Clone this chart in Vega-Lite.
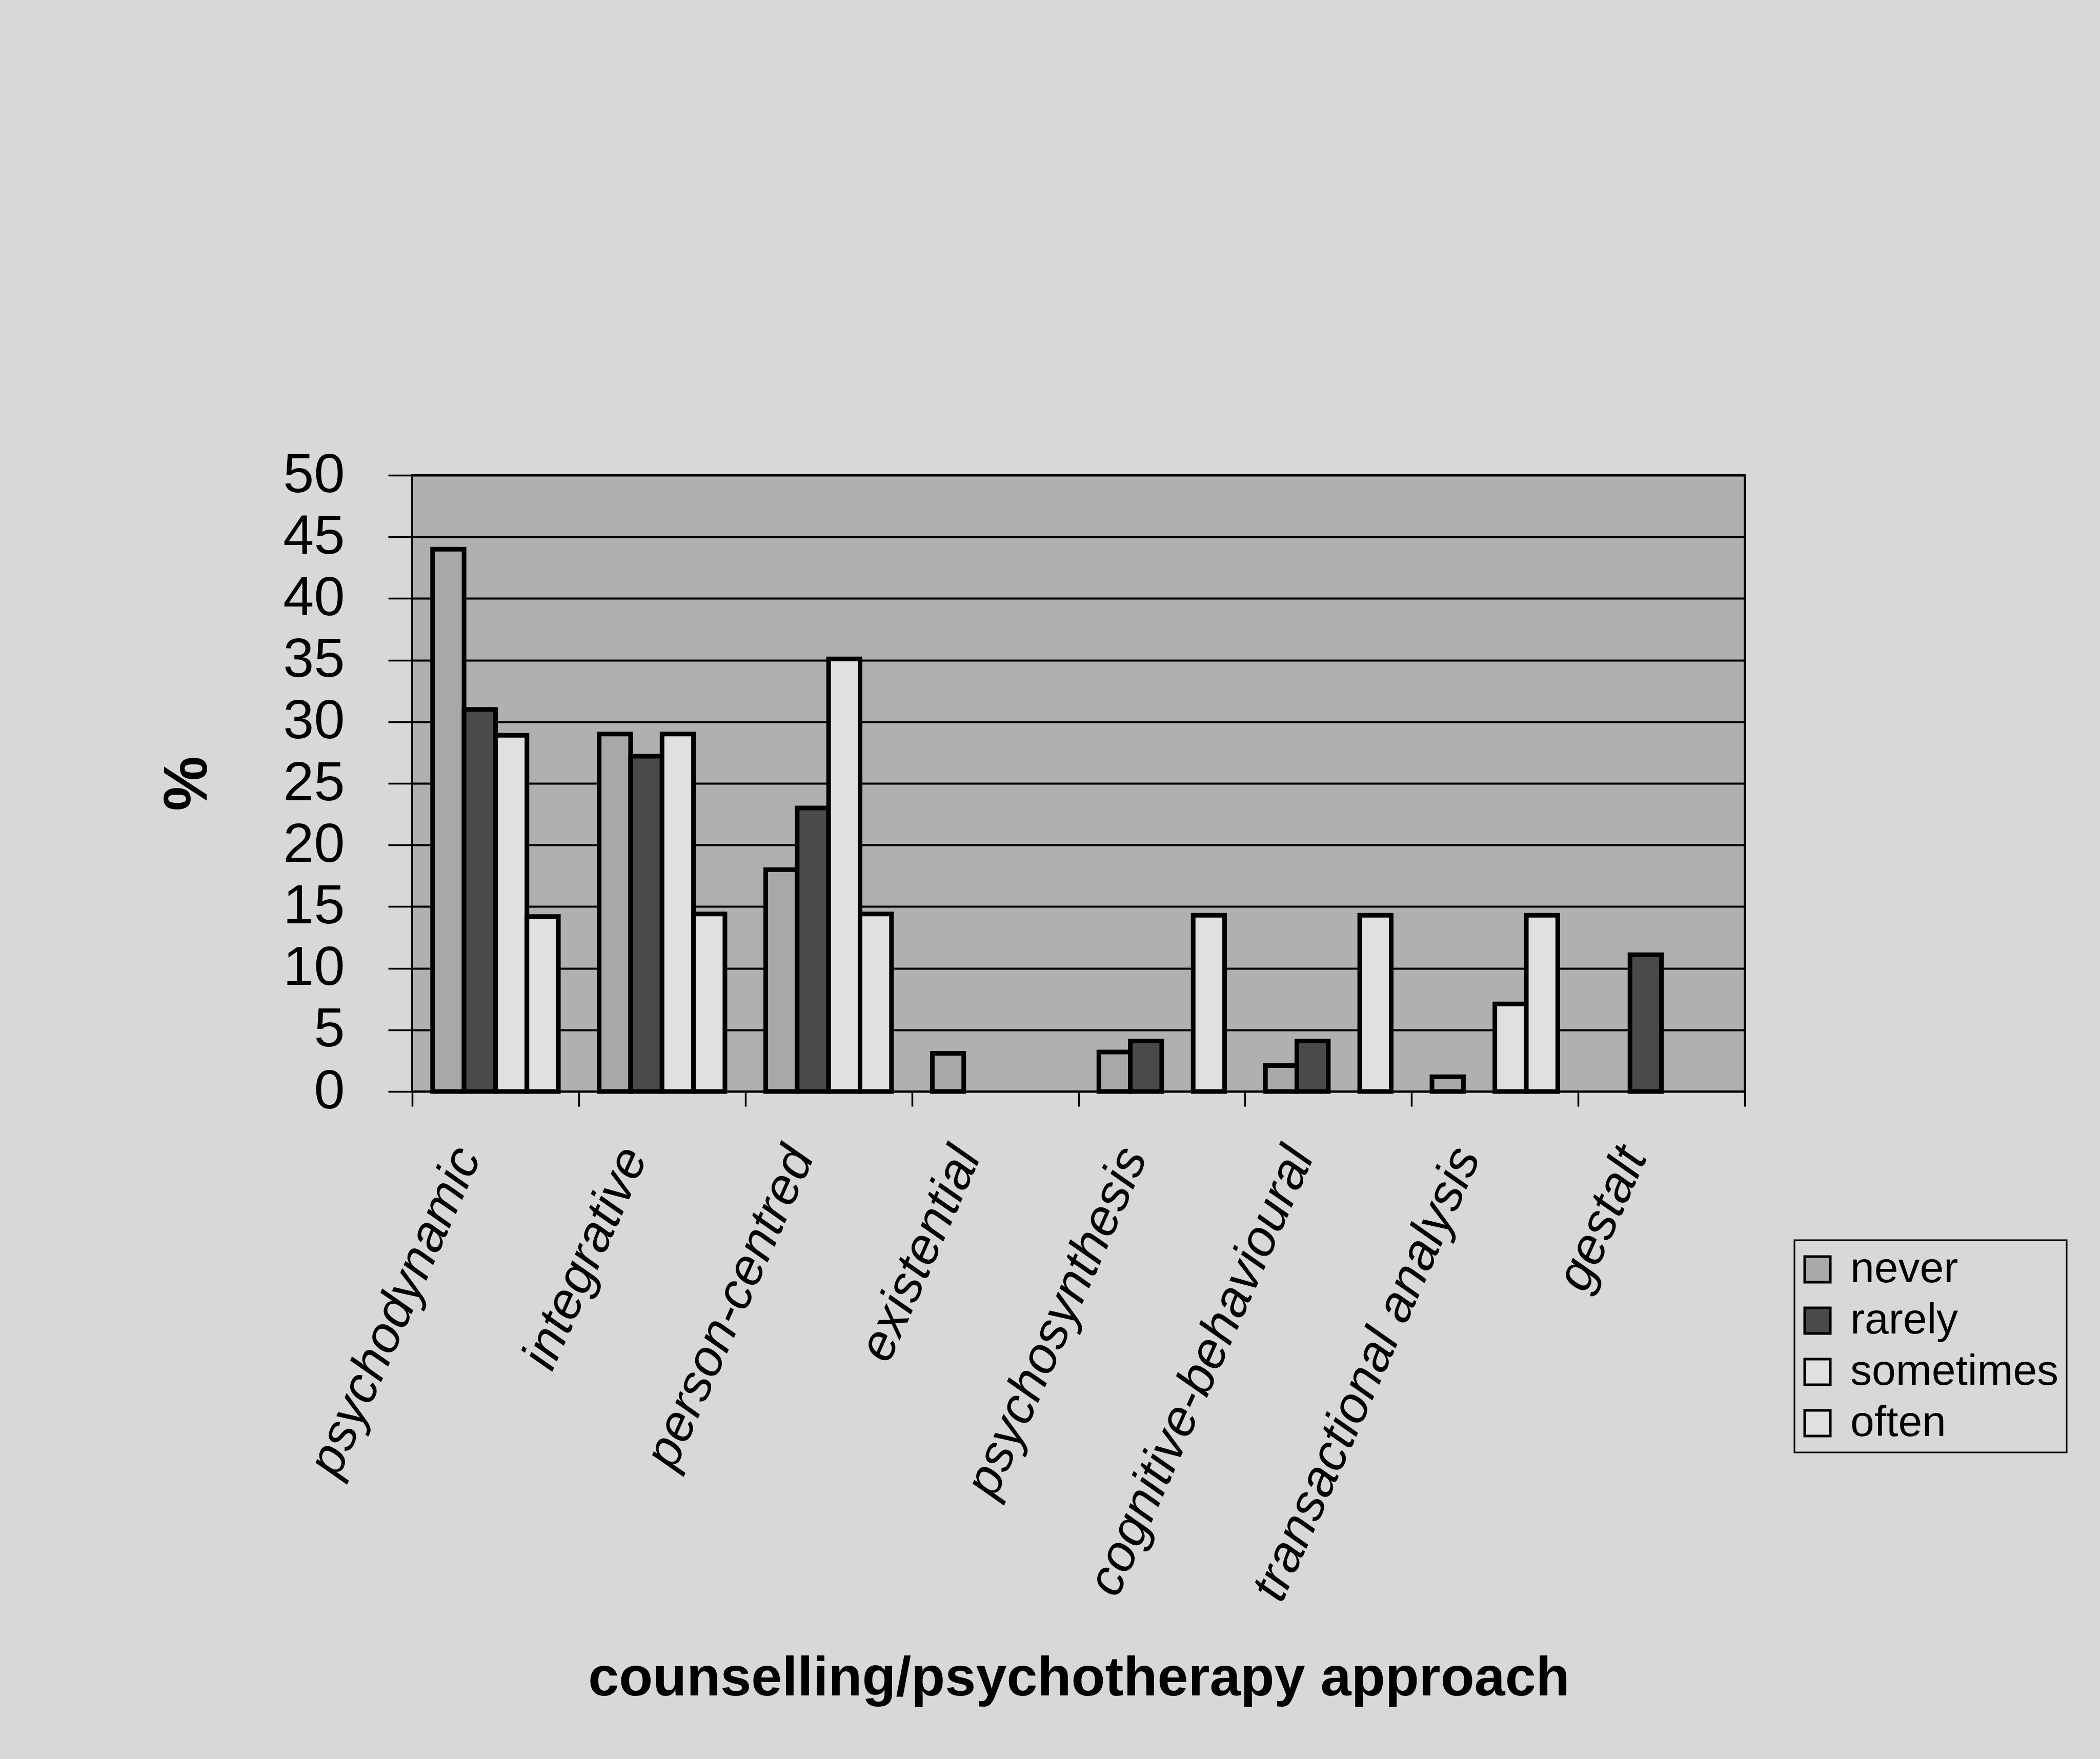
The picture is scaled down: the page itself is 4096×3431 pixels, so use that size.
{
  "$schema": "https://vega.github.io/schema/vega-lite/v6.json",
  "width": 2599,
  "height": 1202,
  "autosize": {"type": "none"},
  "padding": {"left": 804, "top": 927, "right": 693, "bottom": 1302},
  "background": "#d8d8d8",
  "data": {
    "values": [
      {"approach": "psychodynamic", "frequency": "never", "percent": 44},
      {"approach": "psychodynamic", "frequency": "rarely", "percent": 31},
      {"approach": "psychodynamic", "frequency": "sometimes", "percent": 28.9},
      {"approach": "psychodynamic", "frequency": "often", "percent": 14.2},
      {"approach": "integrative", "frequency": "never", "percent": 29},
      {"approach": "integrative", "frequency": "rarely", "percent": 27.2},
      {"approach": "integrative", "frequency": "sometimes", "percent": 29},
      {"approach": "integrative", "frequency": "often", "percent": 14.4},
      {"approach": "person-centred", "frequency": "never", "percent": 18},
      {"approach": "person-centred", "frequency": "rarely", "percent": 23},
      {"approach": "person-centred", "frequency": "sometimes", "percent": 35.1},
      {"approach": "person-centred", "frequency": "often", "percent": 14.4},
      {"approach": "existential", "frequency": "never", "percent": 3.1},
      {"approach": "psychosynthesis", "frequency": "never", "percent": 3.2},
      {"approach": "psychosynthesis", "frequency": "rarely", "percent": 4.1},
      {"approach": "psychosynthesis", "frequency": "often", "percent": 14.3},
      {"approach": "cognitive-behavioural", "frequency": "never", "percent": 2.1},
      {"approach": "cognitive-behavioural", "frequency": "rarely", "percent": 4.1},
      {"approach": "cognitive-behavioural", "frequency": "often", "percent": 14.3},
      {"approach": "transactional analysis", "frequency": "never", "percent": 1.2},
      {"approach": "transactional analysis", "frequency": "sometimes", "percent": 7.1},
      {"approach": "transactional analysis", "frequency": "often", "percent": 14.3},
      {"approach": "gestalt", "frequency": "rarely", "percent": 11.1}
    ]
  },
  "mark": {"type": "bar", "stroke": "black", "strokeWidth": 9},
  "encoding": {
    "x": {
      "field": "approach",
      "type": "nominal",
      "sort": ["psychodynamic", "integrative", "person-centred", "existential", "psychosynthesis", "cognitive-behavioural", "transactional analysis", "gestalt"],
      "scale": {"paddingInner": 0, "paddingOuter": 0},
      "axis": {
        "title": "counselling/psychotherapy approach",
        "titleFontSize": 108,
        "titleFontWeight": "bold",
        "titleColor": "black",
        "titleX": 1300,
        "titleY": 1177,
        "titleAlign": "center",
        "titleBaseline": "alphabetic",
        "labelAngle": -66,
        "labelAlign": "right",
        "labelBaseline": "middle",
        "labelFontSize": 100,
        "labelFontStyle": "italic",
        "labelColor": "black",
        "labelPadding": 85,
        "labelOffset": -55,
        "labelLimit": 0,
        "labelOverlap": false,
        "tickSize": 29,
        "tickWidth": 3.5,
        "tickColor": "black",
        "tickBand": "extent",
        "domain": false,
        "grid": false
      }
    },
    "xOffset": {
      "field": "frequency",
      "type": "nominal",
      "scale": {"domain": ["never", "rarely", "sometimes", "often"], "paddingInner": 0, "paddingOuter": 0.649}
    },
    "y": {
      "field": "percent",
      "type": "quantitative",
      "scale": {"domain": [0, 50], "nice": false},
      "axis": {
        "values": [0, 5, 10, 15, 20, 25, 30, 35, 40, 45, 50],
        "title": "%",
        "titleFontSize": 120,
        "titleFontWeight": "bold",
        "titleColor": "black",
        "titleAngle": -90,
        "titleX": -438,
        "titleY": 601,
        "titleAlign": "center",
        "titleBaseline": "middle",
        "labelFontSize": 108,
        "labelColor": "black",
        "labelPadding": 85,
        "labelOverlap": false,
        "tickSize": 47,
        "tickWidth": 3.5,
        "tickColor": "black",
        "grid": true,
        "gridColor": "black",
        "gridWidth": 4,
        "domain": false
      }
    },
    "color": {
      "field": "frequency",
      "type": "nominal",
      "scale": {
        "domain": ["never", "rarely", "sometimes", "often"],
        "range": ["#a8a8a8", "#4a4a4a", "#e0e0e0", "#e0e0e0"]
      },
      "legend": {
        "orient": "none",
        "legendX": 2696,
        "legendY": 1492,
        "title": null,
        "labelFontSize": 84,
        "labelColor": "black",
        "labelOffset": 22,
        "labelLimit": 0,
        "symbolType": "square",
        "symbolSize": 2500,
        "symbolStrokeColor": "black",
        "symbolStrokeWidth": 5,
        "symbolOpacity": 1,
        "symbolOffset": -12,
        "rowPadding": 16,
        "padding": 15,
        "strokeColor": "black",
        "fillColor": "#d8d8d8",
        "encode": {"legend": {"update": {"strokeWidth": {"value": 3}}}}
      }
    }
  },
  "config": {
    "view": {"fill": "#b0b0b0", "stroke": "black", "strokeWidth": 4},
    "font": "Liberation Sans"
  }
}
